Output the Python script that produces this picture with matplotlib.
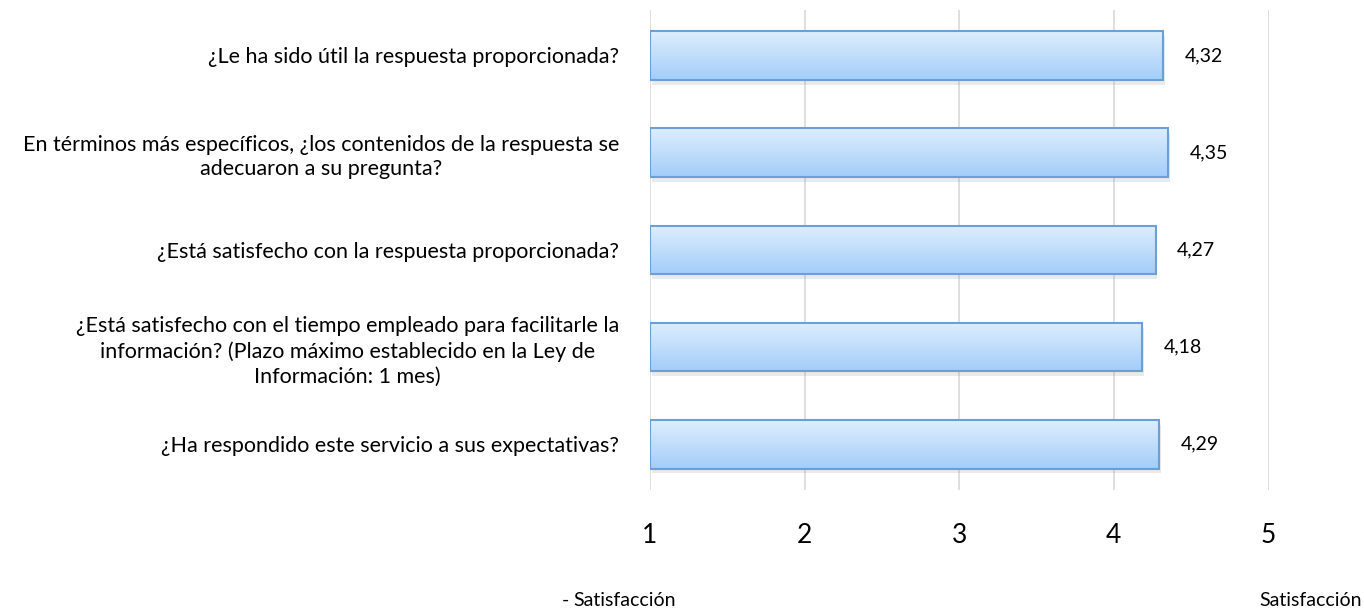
import numpy as np
import matplotlib
matplotlib.use("Agg")
import matplotlib.pyplot as plt
import matplotlib.colors as mcolors

plt.rcParams['font.family'] = ['Lato', 'DejaVu Sans']

preguntas = [
    "¿Le ha sido útil la respuesta proporcionada?",
    "En términos más específicos, ¿los contenidos de la respuesta se\nadecuaron a su pregunta?",
    "¿Está satisfecho con la respuesta proporcionada?",
    "¿Está satisfecho con el tiempo empleado para facilitarle la\ninformación? (Plazo máximo establecido en la Ley de\nInformación: 1 mes)",
    "¿Ha respondido este servicio a sus expectativas?",
]
valores = [4.32, 4.35, 4.27, 4.18, 4.29]
escala = [1, 2, 3, 4, 5]

fig = plt.figure(figsize=(13.64, 6.11), dpi=100)
ax = fig.add_axes([0.4765, 0.198, 0.4535, 0.786])

base = escala[0]
bar_h = 0.5
top_c = np.array(mcolors.to_rgb('#deeefd'))
bot_c = np.array(mcolors.to_rgb('#a3cdf9'))
grad = np.linspace(0, 1, 64)[:, None]
img = (top_c[None, None, :] * (1 - grad[..., None]) + bot_c[None, None, :] * grad[..., None])
img = np.repeat(img, 2, axis=1)

for i, v in enumerate(valores):
    # sombra
    ax.barh(i + 0.05, v - base, left=base + 0.012, height=bar_h, color='#8c8c8c',
            alpha=0.18, zorder=2, linewidth=0)
    ax.imshow(img, extent=(base, v, i + bar_h / 2, i - bar_h / 2), aspect='auto',
              zorder=3, interpolation='bilinear')
    ax.barh(i, v - base, left=base, height=bar_h, facecolor='none',
            edgecolor='#6b9fd8', linewidth=1.5, zorder=4)
    ax.text(v + 0.14, i, f"{v:.2f}".replace('.', ','), va='center', ha='left',
            fontsize=14, color='#000000')

ax.set_xlim(escala[0], escala[-1])
ax.set_ylim(len(valores) - 0.53, -0.47)
ax.set_xticks(escala)
ax.set_xticklabels([str(e) for e in escala], fontsize=19)
ax.set_yticks(range(len(preguntas)))
ax.set_yticklabels(preguntas, fontsize=15.5, multialignment='center', linespacing=1.3)
ax.tick_params(axis='x', length=0, pad=24)
ax.tick_params(axis='y', length=0, pad=22)
ax.grid(axis='x', color='#d9d9d9', linewidth=1.2, zorder=0)
ax.set_axisbelow(True)
for s in ax.spines.values():
    s.set_visible(False)

fig.text(562 / 1364, 1 - 600 / 611, "-", fontsize=14, va='center', ha='left')
fig.text(573 / 1364, 1 - 600 / 611, "Satisfacción", fontsize=14, va='center', ha='left')
fig.text(1362 / 1364, 1 - 600 / 611, "Satisfacción", fontsize=14, va='center', ha='right')

fig.savefig('out.png', dpi=100)
